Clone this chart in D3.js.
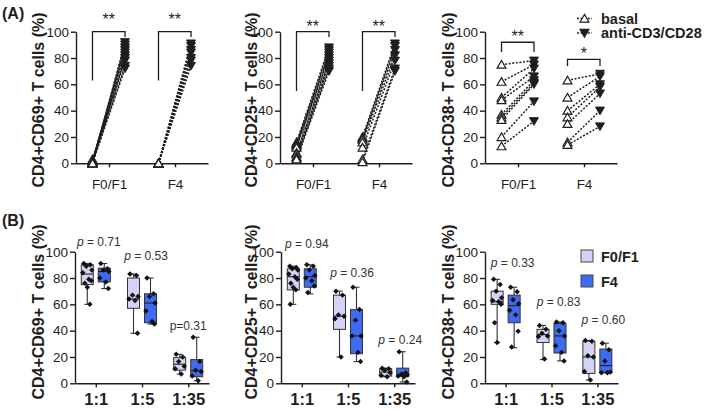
<!DOCTYPE html>
<html><head><meta charset="utf-8">
<script src="https://cdn.jsdelivr.net/npm/d3@7"></script>
<style>body{margin:0;background:#fff}</style>
</head><body>
<svg id="c" width="709" height="409"></svg>
<script>
// ---------- DATA ----------
const groupsA = ["F0/F1", "F4"];
const conditions = ["basal", "anti-CD3/CD28"];
const yTicks = [0, 20, 40, 60, 80, 100];

// Panel A1 CD69 (paired basal -> anti-CD3/CD28)
const cd69BasalF01 = [0, 1, 2, 0, 3, 1, 0, 2, 1, 0];
const cd69StimF01  = [92, 90, 88, 86, 84, 82, 80, 78, 74, 72];
const cd69BasalF4  = [0, 0, 0, 0, 0, 0, 0];
const cd69StimF4   = [91, 89, 86, 84, 80, 78, 74];
// Panel A2 CD25
const cd25BasalF01 = [16, 15, 14, 13, 12, 8, 7, 5, 4, 3];
const cd25StimF01  = [88, 86, 84, 82, 80, 78, 76, 74, 72, 70];
const cd25BasalF4  = [20, 19, 18, 16, 12, 3, 1];
const cd25StimF4   = [91, 89, 86, 82, 78, 72, 70];
// Panel A3 CD38
const cd38BasalF01 = [75, 62, 50, 48, 37, 35, 33, 20, 13];
const cd38StimF01  = [78, 75, 72, 66, 63, 61, 60, 47, 32];
const cd38BasalF4  = [63, 50, 40, 35, 30, 16, 14];
const cd38StimF4   = [68, 66, 60, 58, 53, 40, 28];

// Panel B: ratios, groups; box stats [min, q1, median, q3, max]
const ratios = ["1:1", "1:5", "1:35"];
const groupsB = ["F0/F1", "F4"];
const cd69StatsF01 = [[60, 75, 83, 90, 91], [38, 57, 64, 80, 83], [7, 10, 14.5, 19.5, 22]];
const cd69StatsF4  = [[72, 77, 85, 87.5, 91], [45, 46, 61, 68, 80], [2, 5, 9.5, 18, 35]];
const cd69PtsF01 = [[91, 90, 89, 86, 84, 79, 78, 76, 73, 60], [83, 82, 67, 66, 64, 63, 38], [22, 20, 16.5, 13, 11, 7]];
const cd69PtsF4  = [[91, 87, 86, 85, 80, 77, 72], [80, 68, 66, 61, 55, 47, 45], [35, 16.5, 10, 9, 5.5, 2]];
const cd69P = ["0.71", "0.53", "0.31"];

const cd25StatsF01 = [[60, 71, 81, 87, 89], [20, 41, 51, 67, 70], [5, 5.5, 8.5, 11, 11.5]];
const cd25StatsF4  = [[68, 73, 81, 87, 90], [16.5, 22.5, 36, 56, 73], [1, 5, 6, 11.5, 24]];
const cd25PtsF01 = [[89, 88, 87, 86, 83, 81, 79, 76, 73, 71, 60], [70, 67, 52, 51, 49, 20], [11.5, 11, 10, 8, 6, 5]];
const cd25PtsF4  = [[90, 89, 86, 82, 80, 78, 74, 69], [73, 56, 48, 36, 36, 23.5, 16.5], [24, 8, 7, 6.5, 5.5, 5, 1]];
const cd25P = ["0.94", "0.36", "0.24"];

const cd38StatsF01 = [[31, 60, 62, 70, 79], [18, 31, 37, 41, 44], [2.5, 7.5, 20, 32, 32.5]];
const cd38StatsF4  = [[27, 46, 59, 67, 73], [17, 23, 36, 45.5, 46.5], [8, 8.5, 13.5, 26, 30.5]];
const cd38PtsF01 = [[79, 75, 70, 65, 63, 62, 60, 46, 31], [44, 41, 38, 36, 35.5, 18.5], [32.5, 32, 21, 20, 9, 2.5]];
const cd38PtsF4  = [[73, 69.5, 63.5, 60.5, 55.5, 52, 39.5, 27.5], [46.5, 46, 40, 36, 28.5, 23.5, 17], [30.5, 25.5, 17, 8.5, 8, 8]];
const cd38P = ["0.33", "0.83", "0.60"];

// ---------- DRAWING ----------
const FONT = "'Liberation Sans', Arial, Helvetica, sans-serif";
const INK = "#1e1e1e";
const LIGHT = "#d3d3f6";
const DARK = "#3d6cf2";
const svg = d3.select("#c");

function styleAxis(g, size) {
  g.selectAll("path,line").attr("stroke", INK).attr("stroke-width", 1.4);
  g.selectAll("text").attr("font-family", FONT).attr("font-size", size).attr("fill", INK);
}

function yTitle(text, x, yc) {
  svg.append("text").attr("transform", `translate(${x},${yc}) rotate(-90)`)
    .attr("text-anchor", "middle").attr("font-family", FONT).attr("font-weight", "bold")
    .attr("font-size", 16).attr("fill", INK).text(text);
}

const triUp = d3.symbol().type(d3.symbolTriangle).size(34)();

function panelA(cfg) {
  const x = d3.scalePoint(groupsA, [cfg.x0, cfg.x1]).padding(0.5);
  const y = d3.scaleLinear([0, 100], [163.3, 31.7]);
  const sub = d3.scalePoint(conditions, [-16.5, 16]);
  const g = svg.append("g");
  const gy = g.append("g").attr("transform", `translate(${cfg.x0},0)`)
    .call(d3.axisLeft(y).tickValues(yTicks).tickSize(5).tickSizeOuter(0).tickPadding(2));
  styleAxis(gy, 13.5);
  const gx = g.append("g").attr("transform", `translate(0,${y(0)})`)
    .call(d3.axisBottom(x).tickSize(4).tickSizeOuter(0).tickPadding(12));
  styleAxis(gx, 13.5);
  yTitle(cfg.title, cfg.titleX, 100);

  groupsA.forEach((grp, gi) => {
    const [basal, stim] = cfg.data[gi];
    const xb = x(grp) + sub(conditions[0]), xs = x(grp) + sub(conditions[1]);
    basal.forEach((b, i) => {
      g.append("line").attr("x1", xb).attr("y1", y(b)).attr("x2", xs).attr("y2", y(stim[i]))
        .attr("stroke", INK).attr("stroke-width", 1.5).attr("stroke-dasharray", "2,1.6");
    });
    basal.forEach(b => {
      g.append("path").attr("d", triUp).attr("transform", `translate(${xb},${y(b) + 1})`)
        .attr("fill", "#fff").attr("stroke", INK).attr("stroke-width", 1.2);
    });
    stim.forEach(s => {
      g.append("path").attr("d", triUp).attr("transform", `translate(${xs},${y(s) - 1}) rotate(180)`)
        .attr("fill", INK).attr("stroke", INK).attr("stroke-width", 1);
    });
    // significance bracket
    const br = cfg.brackets[gi];
    g.append("path")
      .attr("d", `M${xb},${y(br.left)}V${y(br.top)}H${xs}V${y(br.right)}`)
      .attr("fill", "none").attr("stroke", INK).attr("stroke-width", 1.3);
    g.append("text").attr("x", (xb + xs) / 2).attr("y", y(br.top) - br.gap)
      .attr("text-anchor", "middle").attr("font-family", FONT).attr("font-size", 16)
      .attr("fill", INK).text(br.star);
  });
}

panelA({ x0: 76, x1: 208, title: "CD4+CD69+ T cells (%)", titleX: 44,
  data: [[cd69BasalF01, cd69StimF01], [cd69BasalF4, cd69StimF4]],
  brackets: [{ top: 100, left: 63, right: 96, star: "**", gap: 6.5 },
             { top: 100, left: 63, right: 96, star: "**", gap: 6.5 }] });
panelA({ x0: 280, x1: 412, title: "CD4+CD25+ T cells (%)", titleX: 257,
  data: [[cd25BasalF01, cd25StimF01], [cd25BasalF4, cd25StimF4]],
  brackets: [{ top: 100, left: 55, right: 96, star: "**", gap: 0 },
             { top: 100, left: 55, right: 96, star: "**", gap: 0 }] });
panelA({ x0: 485, x1: 617, title: "CD4+CD38+ T cells (%)", titleX: 454,
  data: [[cd38BasalF01, cd38StimF01], [cd38BasalF4, cd38StimF4]],
  brackets: [{ top: 92, left: 84.5, right: 84.5, star: "**", gap: 0 },
             { top: 79, left: 74, right: 74, star: "*", gap: 0 }] });

// Legend A
[[conditions[0], 18.5, false], [conditions[1], 33, true]].forEach(([lab, yy, filled]) => {
  svg.append("line").attr("x1", 577).attr("x2", 592).attr("y1", yy).attr("y2", yy)
    .attr("stroke", INK).attr("stroke-width", 1.5).attr("stroke-dasharray", "2,1.6");
  svg.append("path").attr("d", triUp)
    .attr("transform", filled ? `translate(584.5,${yy - 1}) rotate(180)` : `translate(584.5,${yy + 1})`)
    .attr("fill", filled ? INK : "#fff").attr("stroke", INK).attr("stroke-width", 1.2);
  svg.append("text").attr("x", 601).attr("y", yy + 5.2).attr("font-family", FONT)
    .attr("font-weight", "bold").attr("font-size", 14.5).attr("fill", INK).text(lab);
});

// Panel labels
svg.append("text").attr("x", 2).attr("y", 19).attr("font-family", FONT).attr("font-weight", "bold")
  .attr("font-size", 16).attr("fill", INK).text("(A)");
svg.append("text").attr("x", 2).attr("y", 226).attr("font-family", FONT).attr("font-weight", "bold")
  .attr("font-size", 16).attr("fill", INK).text("(B)");

const diamond = d3.symbol().type(d3.symbolSquare).size(15)();
const jitter = [-3.5, 3, -1, 4.5, -4.5, 1.5, 4, -2.5, 0, 2.5, -3];

function panelB(cfg) {
  const x = d3.scalePoint(ratios, [cfg.x0, cfg.x1]).padding(0.45);
  const sub = d3.scalePoint(groupsB, [-8.5, 8.5]);
  const y = d3.scaleLinear([0, 100], [383.3, 251.7]);
  const g = svg.append("g");
  const gy = g.append("g").attr("transform", `translate(${cfg.x0},0)`)
    .call(d3.axisLeft(y).tickValues(yTicks).tickSize(5).tickSizeOuter(0).tickPadding(2));
  styleAxis(gy, 13.5);
  const gx = g.append("g").attr("transform", `translate(0,${y(0)})`)
    .call(d3.axisBottom(x).tickSize(4).tickSizeOuter(0).tickPadding(6));
  styleAxis(gx, 16.5);
  gx.selectAll("text").attr("font-weight", "bold");
  yTitle(cfg.title, cfg.titleX, 312);
  const bw = 12;
  ratios.forEach((r, ri) => {
    groupsB.forEach((grp, gi) => {
      const st = cfg.stats[gi][ri];
      const pts = cfg.points[gi][ri];
      const cx = x(r) + sub(grp);
      g.append("line").attr("x1", cx).attr("x2", cx).attr("y1", y(st[0])).attr("y2", y(st[4]))
        .attr("stroke", "#333").attr("stroke-width", 1.1);
      [st[0], st[4]].forEach(v => g.append("line").attr("x1", cx - 3).attr("x2", cx + 3)
        .attr("y1", y(v)).attr("y2", y(v)).attr("stroke", "#333").attr("stroke-width", 1.1));
      g.append("rect").attr("x", cx - bw / 2).attr("width", bw).attr("y", y(st[3]))
        .attr("height", y(st[1]) - y(st[3])).attr("fill", gi === 0 ? LIGHT : DARK)
        .attr("stroke", "#333").attr("stroke-width", 1);
      g.append("line").attr("x1", cx - bw / 2).attr("x2", cx + bw / 2).attr("y1", y(st[2])).attr("y2", y(st[2]))
        .attr("stroke", "#222").attr("stroke-width", 1.1);
      pts.forEach((v, i) => {
        g.append("path").attr("d", diamond)
          .attr("transform", `translate(${cx + jitter[i % jitter.length]},${y(v)}) rotate(45)`)
          .attr("fill", "#111");
      });
    });
    const pl = cfg.pLabels[ri];
    const t = g.append("text").attr("x", x(r) + pl.dx).attr("y", y(pl.v)).attr("text-anchor", "middle")
      .attr("font-family", FONT).attr("font-size", 12).attr("fill", "#333");
    if (pl.plain) {
      t.text("p=" + cfg.p[ri]);
    } else {
      t.append("tspan").attr("font-style", "italic").text("p");
      t.append("tspan").text(" = " + cfg.p[ri]);
    }
  });
}

panelB({ x0: 75, x1: 209, title: "CD4+CD69+ T cells (%)", titleX: 44,
  stats: [cd69StatsF01, cd69StatsF4], points: [cd69PtsF01, cd69PtsF4], p: cd69P,
  pLabels: [{ dx: 3, v: 104 }, { dx: 4, v: 93.5 }, { dx: 0, v: 40.5, plain: true }] });
panelB({ x0: 281, x1: 415, title: "CD4+CD25+ T cells (%)", titleX: 257,
  stats: [cd25StatsF01, cd25StatsF4], points: [cd25PtsF01, cd25PtsF4], p: cd25P,
  pLabels: [{ dx: 5, v: 103 }, { dx: 4, v: 81 }, { dx: 6, v: 29.5 }] });
panelB({ x0: 485, x1: 618, title: "CD4+CD38+ T cells (%)", titleX: 454,
  stats: [cd38StatsF01, cd38StatsF4], points: [cd38PtsF01, cd38PtsF4], p: cd38P,
  pLabels: [{ dx: 7, v: 88 }, { dx: 7, v: 59 }, { dx: 6, v: 45 }] });

// Legend B
[[groupsB[0], 250, LIGHT], [groupsB[1], 275, DARK]].forEach(([lab, yy, col]) => {
  svg.append("rect").attr("x", 581).attr("y", yy).attr("width", 12).attr("height", 12)
    .attr("fill", col).attr("stroke", "#444").attr("stroke-width", 1);
  svg.append("text").attr("x", 601).attr("y", yy + 11.5).attr("font-family", FONT)
    .attr("font-weight", "bold").attr("font-size", 14.5).attr("fill", INK).text(lab);
});
</script>
</body></html>
